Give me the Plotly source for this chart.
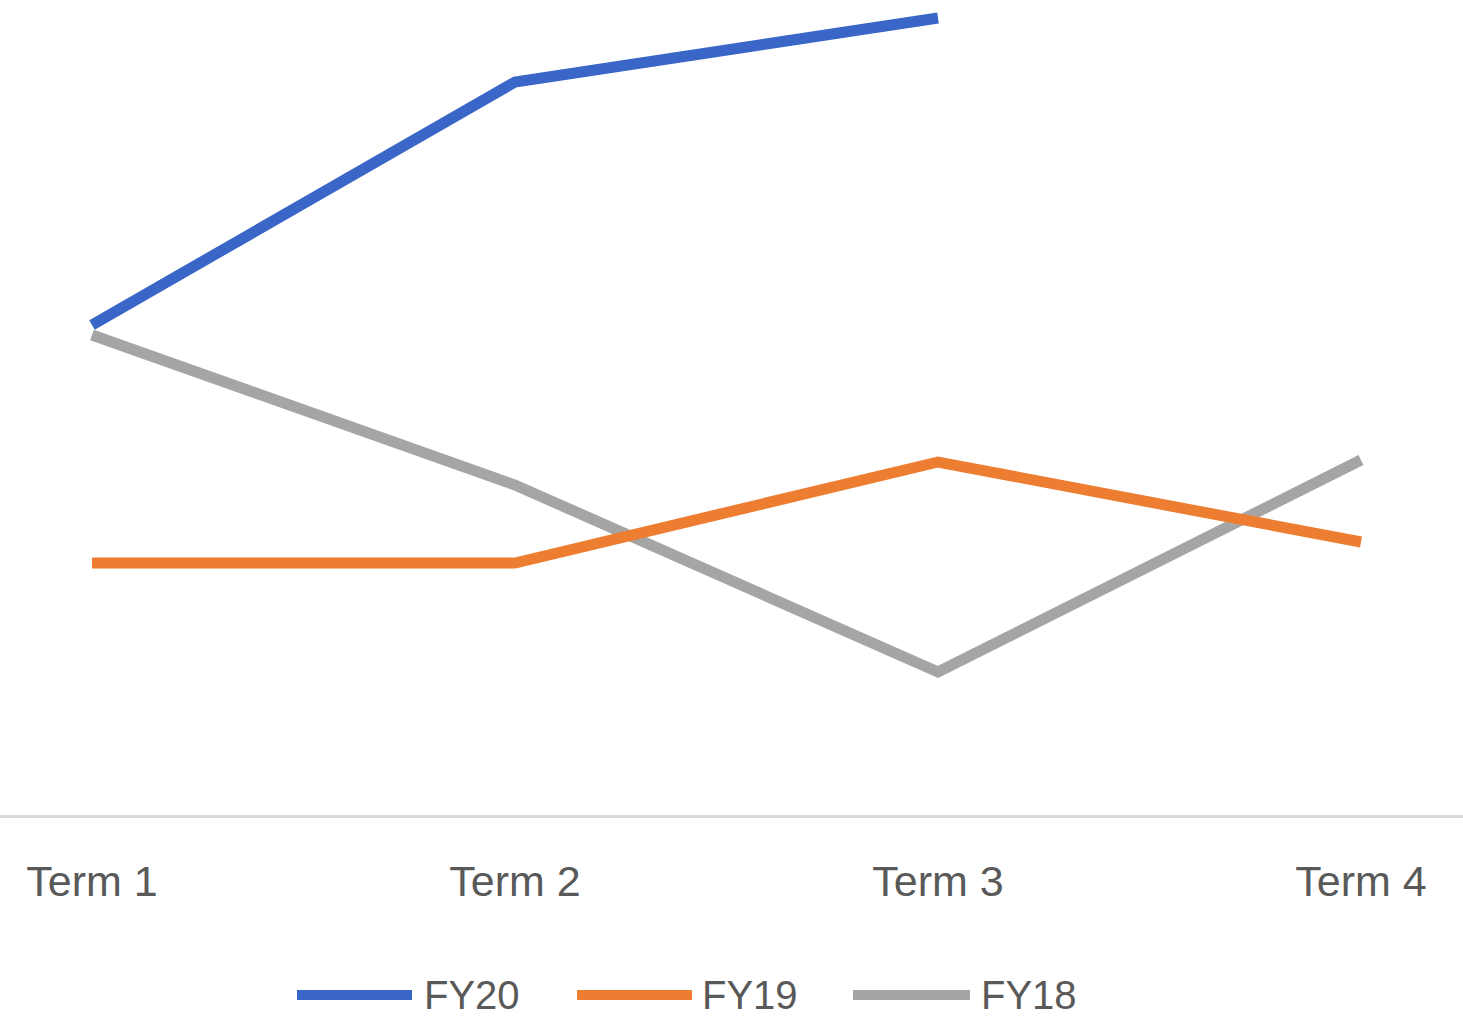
import plotly.graph_objects as go

categories = ["Term 1", "Term 2", "Term 3", "Term 4"]
fy20 = [49.0, 73.3, 79.7, None]
fy19 = [25.2, 25.2, 35.3, 27.3]
fy18 = [48.0, 33.0, 14.3, 35.5]
series_names = ["FY20", "FY19", "FY18"]
series_colors = ["#3A66C8", "#ED7D31", "#A5A5A5"]

fig = go.Figure()
# draw FY18 first so FY19 and FY20 sit on top like the original
order = [(series_names[2], fy18, series_colors[2]),
         (series_names[1], fy19, series_colors[1]),
         (series_names[0], fy20, series_colors[0])]
for name, vals, col in order:
    fig.add_trace(go.Scatter(x=list(range(len(categories))), y=vals, name=name,
                             mode="lines", line=dict(color=col, width=11),
                             connectgaps=False, showlegend=False))

FONT = "Liberation Sans, Arial, sans-serif"
W, H = 1463, 1017
LEG_Y = 995

# manual legend (wide line samples as in the original)
legend_line_x = [(297, 412), (577, 692), (853, 970)]
legend_text_x = [422, 700, 979]
shapes = []
annotations = []
for i, name in enumerate(series_names):
    x0, x1 = legend_line_x[i]
    shapes.append(dict(type="line", xref="paper", yref="paper",
                       x0=x0 / W, x1=x1 / W, y0=-(LEG_Y - 815) / 815, y1=-(LEG_Y - 815) / 815,
                       line=dict(color=series_colors[i], width=10)))
    annotations.append(dict(xref="paper", yref="paper", x=legend_text_x[i] / W,
                            y=-(LEG_Y - 815) / 815, text=name, showarrow=False,
                            xanchor="left", yanchor="middle",
                            font=dict(family=FONT, size=40, color="#595959")))

fig.update_layout(
    width=W, height=H,
    margin=dict(l=0, r=0, t=0, b=H - 815, pad=0),
    paper_bgcolor="white", plot_bgcolor="white",
    showlegend=False,
    shapes=shapes, annotations=annotations,
    xaxis=dict(tickmode="array", tickvals=list(range(len(categories))), ticktext=categories,
               range=[-92 / 423, (W - 92) / 423], showgrid=False, zeroline=False,
               showline=True, linecolor="#D9D9D9", linewidth=3,
               ticks="", ticklabelstandoff=26,
               tickfont=dict(family=FONT, size=43, color="#595959")),
    yaxis=dict(range=[0, 81.5], visible=False, showgrid=False, zeroline=False),
)

fig.write_html("out.html")
